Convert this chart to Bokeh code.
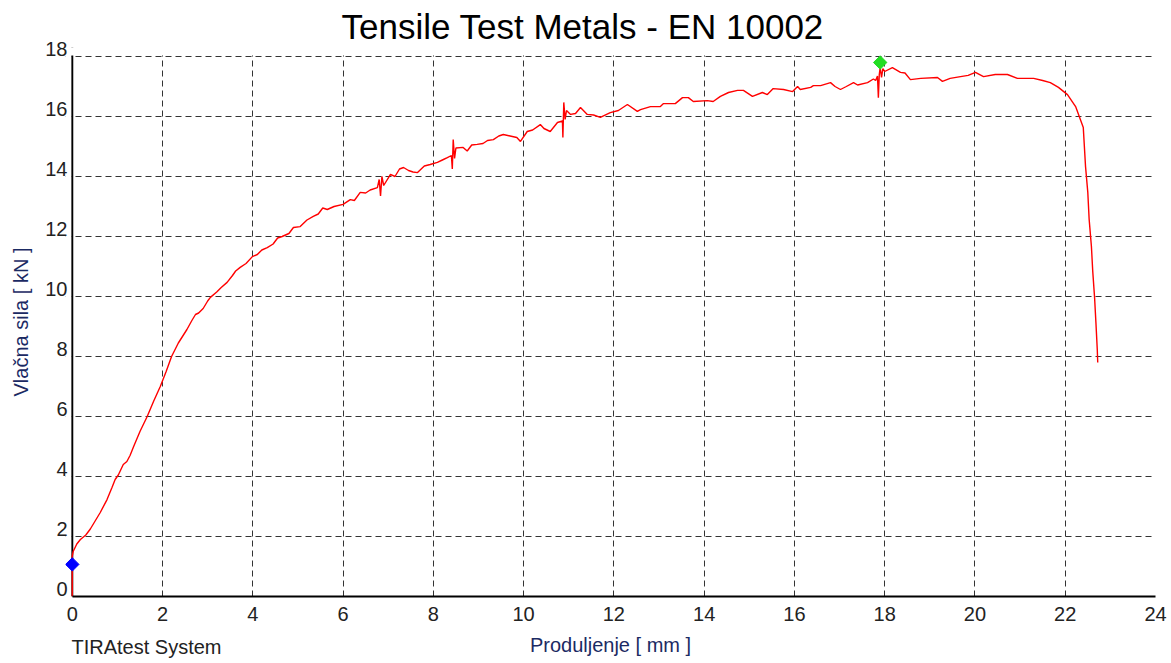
from bokeh.plotting import figure
from bokeh.models import (Range1d, LinearAxis, FixedTicker, Span, Title, BoxAnnotation,
                          ColumnDataSource)
from bokeh.embed import file_html
from bokeh.resources import INLINE

TITLE = "Tensile Test Metals - EN 10002"
X_LABEL = "Produljenje [ mm ]"
Y_LABEL = "Vlačna sila [ kN ]"
FOOTER = "TIRAtest System"

x_ticks = [0, 2, 4, 6, 8, 10, 12, 14, 16, 18, 20, 22, 24]
y_ticks = [0, 2, 4, 6, 8, 10, 12, 14, 16, 18]

elongation_mm = [
    0.0, 0.0, 0.0, 0.02, 0.1, 0.18, 0.3, 0.4, 0.5, 0.62, 0.77, 0.88, 0.95, 1.02, 1.13, 1.21, 1.28,
    1.36, 1.5, 1.66, 1.8, 1.95, 2.08, 2.2, 2.35, 2.54, 2.65, 2.73, 2.8, 2.9, 3.0, 3.06, 3.2, 3.3,
    3.43, 3.55, 3.62, 3.72, 3.85, 3.99, 4.1, 4.2, 4.32, 4.45, 4.55, 4.65, 4.8, 4.9, 5.05, 5.2,
    5.34, 5.45, 5.55, 5.65, 5.8, 6.0, 6.16, 6.25, 6.38, 6.5, 6.6, 6.76, 6.8, 6.83, 6.86, 6.9,
    7.05, 7.15, 7.25, 7.34, 7.45, 7.55, 7.65, 7.8, 7.93, 8.09, 8.2, 8.31, 8.4, 8.42, 8.44, 8.47,
    8.5, 8.66, 8.75, 8.85, 8.97, 9.1, 9.2, 9.33, 9.45, 9.55, 9.7, 9.85, 9.93, 10.08, 10.2, 10.37,
    10.45, 10.59, 10.75, 10.86, 10.87, 10.89, 10.92, 10.95, 11.04, 11.15, 11.26, 11.41, 11.55,
    11.7, 11.92, 12.1, 12.3, 12.52, 12.59, 12.81, 13.03, 13.1, 13.36, 13.52, 13.65, 13.76, 14.07,
    14.2, 14.36, 14.54, 14.74, 14.87, 15.07, 15.29, 15.4, 15.53, 15.76, 15.96, 16.07, 16.13,
    16.36, 16.42, 16.58, 16.8, 16.9, 17.02, 17.15, 17.31, 17.4, 17.62, 17.75, 17.8, 17.84, 17.86,
    17.88, 17.9, 17.93, 17.96, 18.0, 18.17, 18.35, 18.45, 18.57, 18.8, 19.17, 19.28, 19.45,
    19.68, 19.85, 20.01, 20.19, 20.45, 20.72, 20.94, 21.3, 21.5, 21.67, 21.85, 22.05, 22.23,
    22.4, 22.45, 22.5, 22.53, 22.58, 22.61, 22.65, 22.68, 22.71, 22.72,
]
force_kN = [
    0.0, 1.07, 1.35, 1.5, 1.75, 1.9, 2.05, 2.25, 2.5, 2.8, 3.23, 3.63, 3.9, 4.05, 4.4, 4.5, 4.7,
    5.0, 5.5, 6.0, 6.5, 7.0, 7.5, 8.0, 8.45, 8.9, 9.2, 9.4, 9.45, 9.6, 9.85, 9.97, 10.15, 10.3,
    10.47, 10.7, 10.85, 10.97, 11.1, 11.33, 11.4, 11.55, 11.63, 11.75, 11.95, 12.0, 12.1, 12.3,
    12.33, 12.55, 12.67, 12.75, 12.95, 12.9, 13.0, 13.07, 13.23, 13.2, 13.47, 13.45, 13.55,
    13.63, 13.9, 13.35, 14.0, 13.7, 14.07, 14.0, 14.25, 14.3, 14.2, 14.15, 14.13, 14.35, 14.4,
    14.47, 14.55, 14.63, 14.7, 14.25, 15.23, 14.6, 14.95, 14.97, 14.85, 15.05, 15.07, 15.1,
    15.2, 15.23, 15.35, 15.4, 15.35, 15.3, 15.17, 15.5, 15.55, 15.73, 15.6, 15.5, 15.8, 15.85,
    15.3, 16.47, 15.9, 16.2, 16.07, 16.1, 16.3, 16.07, 16.05, 15.97, 16.13, 16.2, 16.4, 16.17,
    16.23, 16.33, 16.33, 16.43, 16.43, 16.63, 16.63, 16.5, 16.53, 16.5, 16.67, 16.8, 16.87,
    16.87, 16.67, 16.8, 16.73, 16.93, 16.9, 16.83, 17.0, 16.9, 16.97, 17.03, 17.03, 17.13, 17.0,
    16.9, 17.0, 17.13, 17.05, 17.13, 17.25, 17.2, 17.35, 16.63, 17.4, 17.63, 17.3, 17.6, 17.5,
    17.63, 17.47, 17.45, 17.23, 17.27, 17.3, 17.17, 17.27, 17.33, 17.37, 17.47, 17.33, 17.4,
    17.4, 17.27, 17.27, 17.2, 17.13, 16.97, 16.73, 16.33, 15.63, 14.33, 13.47, 12.57, 11.67,
    10.83, 9.97, 9.13, 8.23, 7.8,
]

start_x = [0.0]
start_y = [1.07]
peak_x = [17.9]
peak_y = [17.8]

FONT = "Liberation Sans"
NAVY = "#1b2a63"
TXT = "#222222"

X0, X1 = x_ticks[0], x_ticks[-1]
Y0, Y1 = y_ticks[0], y_ticks[-1]
PAD_X = 0.15   # small room left of the axis so the start marker is not cut
PAD_Y = 0.3    # small room above the top grid line for the shifted tick labels
SHIFT = 0.25   # tick labels sit just above their grid lines

p = figure(
    width=1167, height=660,
    x_range=Range1d(X0 - PAD_X, X1), y_range=Range1d(Y0, Y1 + PAD_Y),
    output_backend="svg", toolbar_location=None,
    min_border_left=65, min_border_right=12, min_border_top=47, min_border_bottom=64,
)
p.outline_line_color = None
p.background_fill_color = "white"
p.border_fill_color = "white"

for g, ticks in ((p.xgrid, x_ticks), (p.ygrid, y_ticks)):
    g.ticker = FixedTicker(ticks=ticks)
    g.grid_line_color = "#333333"
    g.grid_line_width = 1
    g.grid_line_dash = "6 4"

xa = p.xaxis[0]
xa.ticker = FixedTicker(ticks=x_ticks)
xa.bounds = (X0, X1)
xa.axis_line_color = "black"
xa.axis_line_width = 2
xa.major_tick_in = 0
xa.major_tick_out = 0
xa.minor_tick_in = 0
xa.minor_tick_out = 0
xa.major_label_text_font = FONT
xa.major_label_text_font_size = "20px"
xa.major_label_text_color = TXT
xa.major_label_standoff = 10
xa.axis_label = X_LABEL
xa.axis_label_text_font = FONT
xa.axis_label_text_font_size = "20px"
xa.axis_label_text_font_style = "normal"
xa.axis_label_text_color = NAVY
xa.axis_label_standoff = 10

p.yaxis.visible = False
p.extra_y_ranges = {"lbl": Range1d(Y0 - SHIFT, Y1 + PAD_Y - SHIFT)}
ya = LinearAxis(y_range_name="lbl", ticker=FixedTicker(ticks=y_ticks))
ya.axis_line_color = None
ya.major_tick_in = 0
ya.major_tick_out = 0
ya.minor_tick_in = 0
ya.minor_tick_out = 0
ya.major_label_text_font = FONT
ya.major_label_text_font_size = "20px"
ya.major_label_text_color = TXT
ya.major_label_standoff = -2
ya.axis_label = Y_LABEL
ya.axis_label_text_font = FONT
ya.axis_label_text_font_size = "20px"
ya.axis_label_text_font_style = "normal"
ya.axis_label_text_color = NAVY
ya.axis_label_standoff = 10
p.add_layout(ya, "left")

# y axis line
p.add_layout(Span(location=X0, dimension="height", line_color="black", line_width=2,
                  level="underlay"))
# white masks over the grid outside the 0..24 x 0..18 box
p.add_layout(BoxAnnotation(bottom=Y1 + 0.03, top=Y1 + PAD_Y, left=X0 - PAD_X, right=X1,
                           fill_color="white", fill_alpha=1, line_alpha=0, level="underlay"))
p.add_layout(BoxAnnotation(left=X0 - PAD_X, right=X0 - 0.025, bottom=Y0, top=Y1 + PAD_Y,
                           fill_color="white", fill_alpha=1, line_alpha=0, level="underlay"))

src = ColumnDataSource(dict(x=elongation_mm, y=force_kN))
p.line("x", "y", source=src, line_color="#ff0000", line_width=1.4)

p.scatter(start_x, start_y, marker="square", angle=0.785398, size=9.5,
          fill_color="#0000ff", line_color="#0000ff")
p.scatter(peak_x, peak_y, marker="square", angle=0.785398, size=9.5,
          fill_color="#22dd22", line_color="#22dd22")

p.add_layout(Title(text=TITLE, align="left", offset=276, standoff=4,
                   text_font=FONT, text_font_size="35px", text_font_style="normal",
                   text_color="black"), "above")
p.add_layout(Title(text=FOOTER, align="left", offset=6, standoff=-46, vertical_align="top",
                   text_font=FONT, text_font_size="20px", text_font_style="normal",
                   text_color=TXT), "below")

open("out.html", "w").write(file_html(p, INLINE))
